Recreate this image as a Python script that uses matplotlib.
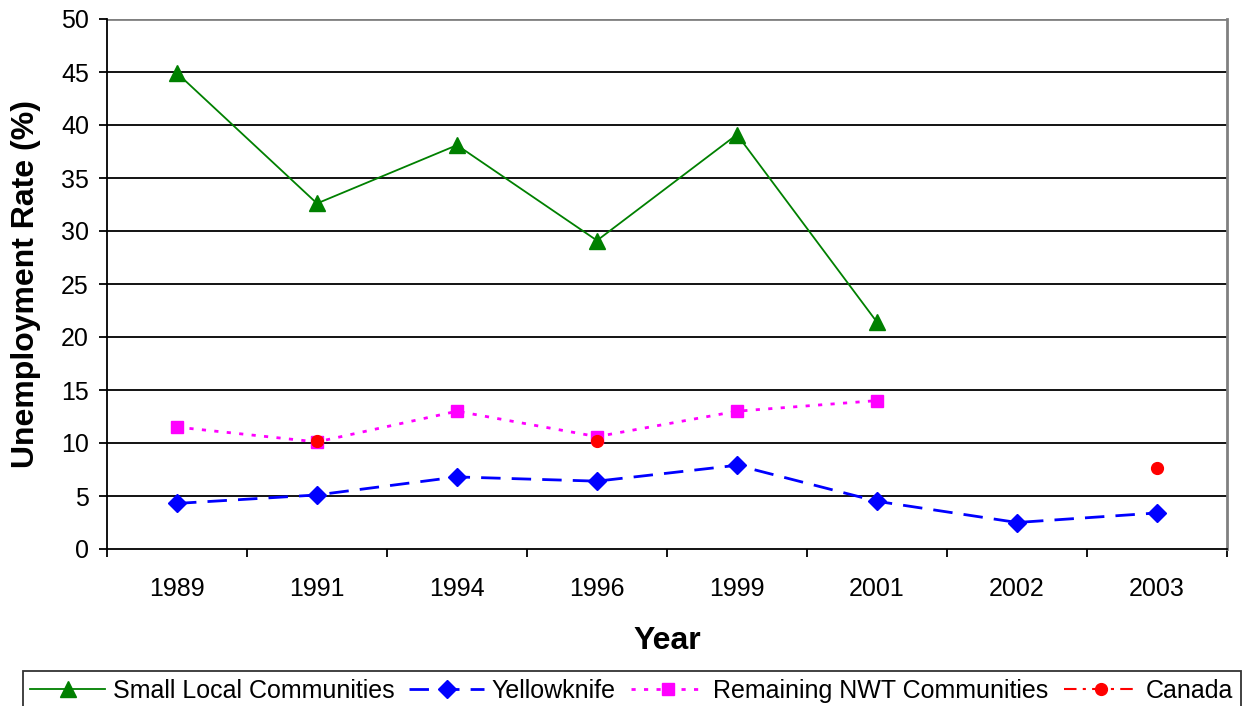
import numpy as np
import matplotlib
matplotlib.use("Agg")
import matplotlib.pyplot as plt

plt.rcParams['font.family'] = ['Liberation Sans', 'DejaVu Sans']

years = ["1989", "1991", "1994", "1996", "1999", "2001", "2002", "2003"]
small_local = [44.9, 32.6, 38.1, 29.1, 39.1, 21.4, np.nan, np.nan]
yellowknife = [4.3, 5.1, 6.8, 6.4, 7.9, 4.5, 2.5, 3.4]
remaining_nwt = [11.5, 10.1, 13.0, 10.6, 13.0, 14.0, np.nan, np.nan]
canada = [np.nan, 10.2, np.nan, 10.2, np.nan, np.nan, np.nan, 7.6]

fig = plt.figure(figsize=(12.51, 7.06), dpi=100)
ax = fig.add_axes([107/1251, 1 - 549/706, 1120/1251, 530/706])

x = np.arange(len(years))

# gridlines first so series sit on top
for v in range(5, 50, 5):
    ax.axhline(v, color='black', lw=1.3, zorder=1)
ax.axhline(50, color='#808080', lw=2, zorder=1)

ax.plot(x, small_local, color='#008000', lw=1.3, marker='^', ms=11,
        label='Small Local Communities', zorder=3)
ax.plot(x, yellowknife, color='#0000FF', lw=2, dashes=(7, 4), marker='D', ms=9,
        label='Yellowknife', zorder=3)
ax.plot(x, remaining_nwt, color='#FF00FF', lw=2, dashes=(1.5, 3), marker='s', ms=8.5,
        label='Remaining NWT Communities', zorder=3)
ax.plot(x, canada, color='#FF0000', lw=1.5, dashes=(6, 3, 1.5, 3), marker='o', ms=8.5,
        label='Canada', zorder=4)

ax.set_xlim(-0.5, len(years) - 0.5)
ax.set_ylim(0, 50)
ax.set_yticks(range(0, 51, 5))
ax.set_xticks(x)
ax.set_xticklabels(years)
ax.set_xticks(np.arange(-0.5, len(years)), minor=True)
ax.tick_params(axis='x', which='major', length=0, pad=20, labelsize=18)
ax.tick_params(axis='x', which='minor', length=6, width=1.3, direction='out')
ax.tick_params(axis='y', length=6, width=1.3, direction='out', pad=7, labelsize=18)

ax.spines['top'].set_visible(False)
ax.spines['right'].set_color('#808080')
ax.spines['right'].set_linewidth(2)
ax.spines['left'].set_linewidth(1.3)
ax.spines['bottom'].set_linewidth(1.3)

ax.set_xlabel('Year', fontsize=23, fontweight='bold', labelpad=18)
ax.set_ylabel('Unemployment Rate (%)', fontsize=23, fontweight='bold', labelpad=14)

leg = fig.legend(loc='lower center', bbox_to_anchor=(0.505, -0.006), ncol=4,
                 fontsize=18, frameon=True, fancybox=False, edgecolor='black',
                 handlelength=3.0, handletextpad=0.3, columnspacing=0.6,
                 borderpad=0.3, borderaxespad=0)
leg.get_frame().set_linewidth(1.3)

fig.savefig('out.png', dpi=100)
